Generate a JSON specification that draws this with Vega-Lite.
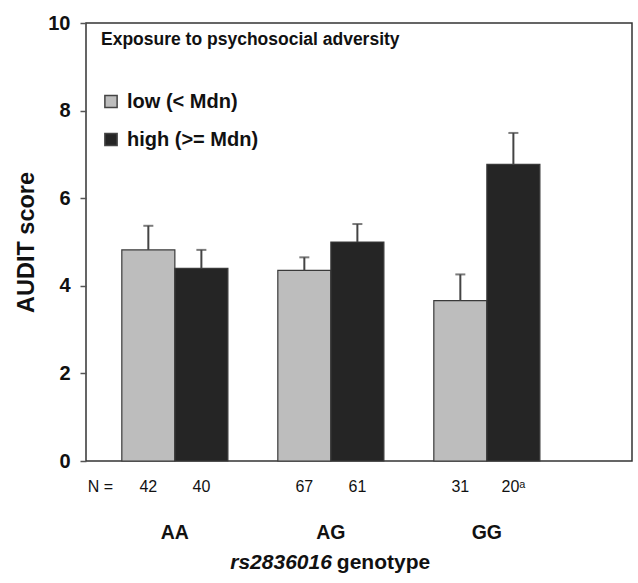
{
  "$schema": "https://vega.github.io/schema/vega-lite/v6.json",
  "autosize": "none",
  "width": 546,
  "height": 438,
  "padding": {"left": 86, "top": 23, "right": 6, "bottom": 122},
  "background": "white",
  "config": {
    "font": "Liberation Sans",
    "view": {"stroke": "#333", "strokeWidth": 1.5},
    "axis": {"grid": false}
  },
  "data": {
    "values": [
      {"genotype": "AA", "exposure": "low (< Mdn)", "mean": 4.82, "upper": 5.37, "n": "42"},
      {"genotype": "AA", "exposure": "high (>= Mdn)", "mean": 4.40, "upper": 4.82, "n": "40"},
      {"genotype": "AG", "exposure": "low (< Mdn)", "mean": 4.35, "upper": 4.65, "n": "67"},
      {"genotype": "AG", "exposure": "high (>= Mdn)", "mean": 5.00, "upper": 5.41, "n": "61"},
      {"genotype": "GG", "exposure": "low (< Mdn)", "mean": 3.66, "upper": 4.26, "n": "31"},
      {"genotype": "GG", "exposure": "high (>= Mdn)", "mean": 6.77, "upper": 7.49, "n": "20ᵃ"}
    ]
  },
  "encoding": {
    "x": {
      "field": "genotype",
      "type": "nominal",
      "sort": ["AA", "AG", "GG"],
      "scale": {"paddingInner": 0.32, "paddingOuter": 0.41, "align": 0.28},
      "axis": {
        "title": null,
        "ticks": false,
        "domain": false,
        "labelAngle": 0,
        "labelFont": "Liberation Sans",
        "labelFontSize": 19.5,
        "labelFontWeight": "bold",
        "labelColor": "#111",
        "labelPadding": 62
      }
    },
    "xOffset": {
      "field": "exposure",
      "type": "nominal",
      "sort": ["low (< Mdn)", "high (>= Mdn)"],
      "scale": {"paddingInner": 0, "paddingOuter": 0}
    }
  },
  "layer": [
    {
      "mark": {"type": "bar", "stroke": "#3a3a3a", "strokeWidth": 1.2},
      "encoding": {
        "y": {
          "field": "mean",
          "type": "quantitative",
          "scale": {"domain": [0, 10], "nice": false},
          "axis": {
            "title": "AUDIT score",
            "titleFont": "Liberation Sans",
            "titleFontSize": 23.5,
            "titleFontWeight": "bold",
            "titleColor": "#111",
            "titlePadding": 9,
            "values": [0, 2, 4, 6, 8, 10],
            "domain": false,
            "tickSize": 6,
            "tickColor": "#555",
            "tickWidth": 1.5,
            "labelFontSize": 20,
            "labelFontWeight": "bold",
            "labelColor": "#111",
            "labelPadding": 10
          }
        },
        "color": {
          "field": "exposure",
          "type": "nominal",
          "scale": {"domain": ["low (< Mdn)", "high (>= Mdn)"], "range": ["#bdbdbd", "#252525"]},
          "legend": {
            "title": "Exposure to psychosocial adversity",
            "orient": "none",
            "legendX": 15,
            "legendY": 8,
            "titleFontSize": 17.5,
            "titleFontWeight": "bold",
            "titleColor": "#111",
            "titlePadding": 43,
            "titleLimit": 400,
            "labelFontSize": 20,
            "labelFontWeight": "bold",
            "labelColor": "#111",
            "labelLimit": 300,
            "symbolType": "square",
            "symbolSize": 150,
            "symbolStrokeColor": "#444",
            "symbolStrokeWidth": 1.5,
            "rowPadding": 18,
            "labelOffset": 6
          }
        }
      }
    },
    {
      "mark": {"type": "rule", "color": "#444", "strokeWidth": 2},
      "encoding": {
        "y": {"field": "mean", "type": "quantitative"},
        "y2": {"field": "upper"}
      }
    },
    {
      "mark": {"type": "tick", "color": "#444", "thickness": 2, "size": 10, "orient": "horizontal"},
      "encoding": {
        "y": {"field": "upper", "type": "quantitative"}
      }
    },
    {
      "mark": {"type": "text", "dy": 26, "baseline": "middle", "fontSize": 16, "color": "#111"},
      "encoding": {
        "y": {"datum": 0},
        "text": {"field": "n"}
      }
    },
    {
      "data": {"values": [{"genotype": "AA", "exposure": "low (< Mdn)", "label": "N ="}]},
      "mark": {"type": "text", "dy": 26, "dx": -48, "baseline": "middle", "fontSize": 16, "color": "#111"},
      "encoding": {
        "y": {"datum": 0},
        "text": {"field": "label"}
      }
    },
    {
      "data": {"values": [{"genotype": "AG", "label": "rs2836016"}]},
      "mark": {"type": "text", "dy": 102, "dx": 1, "align": "right", "baseline": "middle", "fontSize": 21, "fontWeight": "bold", "fontStyle": "italic", "color": "#111"},
      "encoding": {
        "xOffset": null,
        "y": {"datum": 0},
        "text": {"field": "label"}
      }
    },
    {
      "data": {"values": [{"genotype": "AG", "label": "genotype"}]},
      "mark": {"type": "text", "dy": 102, "dx": 6, "align": "left", "baseline": "middle", "fontSize": 21, "fontWeight": "bold", "color": "#111"},
      "encoding": {
        "xOffset": null,
        "y": {"datum": 0},
        "text": {"field": "label"}
      }
    }
  ]
}
